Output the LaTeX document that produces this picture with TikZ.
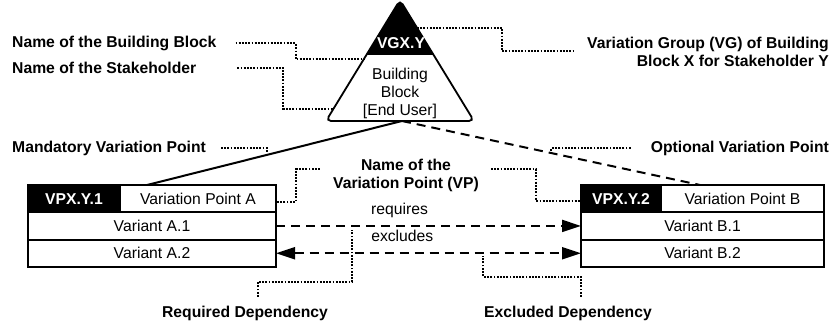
\documentclass[tikz,border=0pt]{standalone}
\usepackage{fontspec}
\setmainfont{Liberation Sans}
\usetikzlibrary{arrows.meta,positioning,calc}

\begin{document}
\begin{tikzpicture}[x=1pt, y=-1pt,
    font=\fontsize{15.7}{18}\selectfont,
    >={Triangle[length=19pt, width=12pt]},
    cell/.style={draw, line width=1.8pt, inner sep=0pt, outer sep=0pt,
                 minimum height=27.3pt},
    idcell/.style={cell, fill=black, text=white,
                   font=\fontsize{15.7}{18}\selectfont\bfseries},
    note/.style={inner sep=0pt, font=\fontsize{15.7}{18}\selectfont\bfseries},
    ptr/.style={line width=2pt, dash pattern=on 1.8pt off 1.4pt},
    link/.style={line width=2pt},
    dep/.style={line width=2pt, dash pattern=on 9pt off 6pt}]
  \useasboundingbox (0,0) rectangle (840,324);
  % building block triangle
  \coordinate (apex) at (400,0);
  \coordinate (bl) at (326,121);
  \coordinate (br) at (474,121);
  \coordinate (bbbase) at (402,121);
  \begin{scope}
    \clip[rounded corners=5pt] (apex) -- (br) -- (bl) -- cycle;
    \fill (0,0) rectangle (840,55);
  \end{scope}
  \draw[line width=1.8pt, rounded corners=5pt] (apex) -- (br) -- (bl) -- cycle;
  \node[inner sep=0pt, anchor=base, text=white,
        font=\fontsize{15.7}{18}\selectfont\bfseries] (vg) at (401,48.3) {VGX.Y};
  \node[inner sep=0pt, anchor=north, align=center] (bb) at (400,67.5)
    {Building\\Block\\{[End User]}};
  % variation points
  \node[idcell, minimum width=92pt, anchor=north west] (vpaid) at (28,185) {VPX.Y.1};
  \node[cell, minimum width=156pt, right=0pt of vpaid] (vpaname) {Variation Point A};
  \node[cell, minimum width=248pt, anchor=north west] (vara1) at (vpaid.south west) {Variant A.1};
  \node[cell, minimum width=248pt, anchor=north west] (vara2) at (vara1.south west) {Variant A.2};
  \node[idcell, minimum width=80pt, anchor=north west] (vpbid) at (581,185) {VPX.Y.2};
  \node[cell, minimum width=163pt, right=0pt of vpbid] (vpbname) {Variation Point B};
  \node[cell, minimum width=243pt, anchor=north west] (varb1) at (vpbid.south west) {Variant B.1};
  \node[cell, minimum width=243pt, anchor=north west] (varb2) at (varb1.south west) {Variant B.2};
  % connectors
  \draw[link] (bbbase) -- coordinate[pos=.53] (mv) ([xshift=27pt]vpaname.north west);
  \draw[dep] (bbbase) -- coordinate[pos=.5] (ov) ([xshift=39pt]vpbname.north west);
  \draw[dep, ->] (vara1.east) -- coordinate[pos=.25] (rq)
    node[pos=.405, anchor=base, yshift=11pt] (lreq) {requires} (varb1.west);
  \draw[dep, <->] (vara2.east) -- coordinate[pos=.68] (ex)
    node[pos=.414, anchor=base, yshift=12pt] (lexc) {excludes} (varb2.west);
  % annotations
  \node[note, anchor=base west] (nbb) at (12,47.5) {Name of the Building Block};
  \node[note, anchor=base west] (nsh) at (12,73.5) {Name of the Stakeholder};
  \node[note, anchor=north east, align=right] (nvg) at (829,36.5)
    {Variation Group (VG) of Building\\Block X for Stakeholder Y};
  \node[note, anchor=base west] (nmvp) at (12,152) {Mandatory Variation Point};
  \node[note, anchor=base east] (novp) at (829,152.5) {Optional Variation Point};
  \node[note, anchor=north, align=center] (nvp) at (406,158.6)
    {Name of the\\Variation Point (VP)};
  \node[note, anchor=base] (nreq) at (245,317.3) {Required Dependency};
  \node[note, anchor=base] (nexc) at (568,317.3) {Excluded Dependency};
  \coordinate (bbedge) at ($(apex)!.49!(bl)$);
  \coordinate (shedge) at ($(apex)!.9!(bl)$);
  \coordinate (vgedge) at ($(apex)!.23!(br)$);
  \draw[ptr] ([xshift=19pt]nbb.east) -- ++(60,0) |- (bbedge);
  \draw[ptr] ([xshift=41pt]nsh.east) -- ++(46,0) |- (shedge);
  \draw[ptr] (vgedge) -- ++(85,0) |- ([xshift=-12pt]nvg.west);
  \draw[ptr] ([xshift=15pt]nmvp.east) -| ([yshift=3pt]mv);
  \draw[ptr] ([xshift=-20pt]novp.west) -| (ov);
  \draw[ptr] ([xshift=-13pt,yshift=6pt]nvp.west) -- ++(-24,0) |- ([yshift=-3pt]vpaname.east);
  \draw[ptr] ([xshift=12pt,yshift=6pt]nvp.east) -- ++(45,0) |- ([yshift=-2pt]vpbid.west);
  \draw[ptr] ([xshift=13pt,yshift=9pt]nreq.north) -- ++(0,-15) -| ([yshift=-4pt]rq);
  \draw[ptr] ([xshift=13pt,yshift=9pt]nexc.north) -- ++(0,-20) -| ([yshift=-3pt]ex);
\end{tikzpicture}
\end{document}
